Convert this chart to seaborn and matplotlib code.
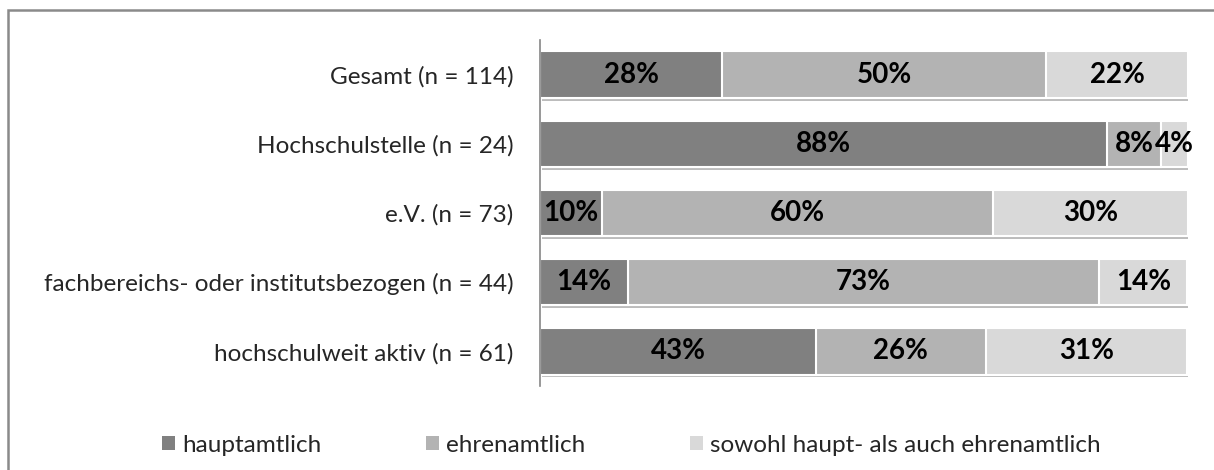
import matplotlib
matplotlib.use('Agg')
import matplotlib.pyplot as plt
import matplotlib.patheffects as pe
from matplotlib.patches import Patch, Rectangle
import seaborn as sns
import numpy as np
import pandas as pd

categories = ['Gesamt (n = 114)', 'Hochschulstelle (n = 24)', 'e.V. (n = 73)',
              'fachbereichs- oder institutsbezogen (n = 44)', 'hochschulweit aktiv (n = 61)']
series = ['hauptamtlich', 'ehrenamtlich', 'sowohl haupt- als auch ehrenamtlich']
haupt = [28.1, 87.5, 9.6, 13.6, 42.6]
ehren = [50.0, 8.3, 60.3, 72.7, 26.2]
beides = [21.9, 4.2, 30.1, 13.6, 31.1]
colors = ['#808080', '#b3b3b3', '#d9d9d9']

sns.set_style('white')
plt.rcParams['font.family'] = ['Lato', 'DejaVu Sans']

df = pd.DataFrame({'kategorie': categories, series[0]: haupt,
                   series[1]: ehren, series[2]: beides})
vals = df[series].to_numpy()
cum = vals.cumsum(axis=1)
for i, s in enumerate(series):
    df['cum_' + s] = cum[:, i]

fig = plt.figure(figsize=(12.14, 4.70), dpi=100)
ax = fig.add_axes([540 / 1214, 1 - 386 / 470, 648 / 1214, 346 / 470])

# stacked bars: draw cumulative totals from the back to the front
for i in reversed(range(len(series))):
    sns.barplot(data=df, x='cum_' + series[i], y='kategorie', orient='h',
                color=colors[i], saturation=1, width=0.67, edgecolor='white',
                linewidth=1.5, ax=ax)
    if i == len(series) - 1:
        for p in ax.patches:
            p.set_path_effects([pe.SimplePatchShadow(offset=(1.5, -2), alpha=0.35),
                                pe.Normal()])

for r in range(len(categories)):
    left = 0
    for i in range(len(series)):
        v = vals[r, i]
        ax.text(left + v / 2, r, f'{v:.0f}%', ha='center', va='center',
                fontsize=20, fontweight='bold', color='black')
        left += v

ax.set_xlim(0, 100)
ax.set_ylim(4.5, -0.5)
ax.set_xlabel('')
ax.set_ylabel('')
ax.set_xticks([])
ax.tick_params(axis='y', length=0, pad=19, labelsize=17.5)
for side in ['top', 'right', 'bottom']:
    ax.spines[side].set_visible(False)
ax.spines['left'].set_color('#868686')
ax.spines['left'].set_linewidth(1.2)

handles = [Patch(facecolor=c, edgecolor='none') for c in colors]
fig.legend(handles, series, loc='center left', bbox_to_anchor=(162 / 1214, 1 - 445 / 470),
           ncol=3, frameon=False, fontsize=17.5, handlelength=0.53, handleheight=0.53,
           handletextpad=0.3, columnspacing=4.3, borderpad=0, borderaxespad=0)

fig.add_artist(Rectangle((8 / 1214, -0.1), 1.2, 1 - 10 / 470 + 0.1,
                         transform=fig.transFigure, fill=False,
                         edgecolor='#8a8a8a', linewidth=1.8))

fig.savefig('out.png', dpi=100)
